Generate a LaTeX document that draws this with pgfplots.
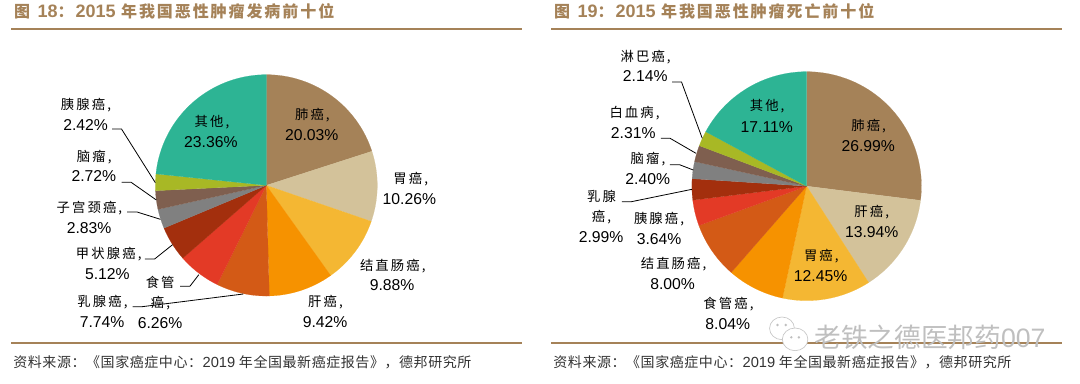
\documentclass[border=0pt]{standalone}
\usepackage{fontspec}
\usepackage{pgfplots}
\usepackage{pgfplotstable}
\pgfplotsset{compat=1.18}
\setmainfont{Liberation Sans}
\newfontfamily\cjk[LetterSpace=16]{Noto Sans CJK SC}
\newfontfamily\cjkt[LetterSpace=12]{Noto Sans CJK SC}
\newfontfamily\cjkf[LetterSpace=4]{Noto Sans CJK SC}
\newfontfamily\cjkw{Noto Sans CJK SC}
\definecolor{c1}{HTML}{A58258}
\definecolor{c2}{HTML}{D3C29A}
\definecolor{c3}{HTML}{F4B733}
\definecolor{c4}{HTML}{F69200}
\definecolor{c5}{HTML}{D35A16}
\definecolor{c6}{HTML}{E33A26}
\definecolor{c7}{HTML}{A32F0D}
\definecolor{c8}{HTML}{808080}
\definecolor{c9}{HTML}{7F5F4F}
\definecolor{c10}{HTML}{A8B825}
\definecolor{c11}{HTML}{2DB494}
\definecolor{tt}{HTML}{A58258}
\pgfplotstableread{
name value color
肺癌 20.03 c1
胃癌 10.26 c2
结直肠癌 9.88 c3
肝癌 9.42 c4
乳腺癌 7.74 c5
食管癌 6.26 c6
甲状腺癌 5.12 c7
子宫颈癌 2.83 c8
脑瘤 2.72 c9
胰腺癌 2.42 c10
其他 23.36 c11
}\tableA
\pgfplotstableread{
name value color
肺癌 26.99 c1
肝癌 13.94 c2
胃癌 12.45 c3
食管癌 8.04 c4
结直肠癌 8.00 c5
胰腺癌 3.64 c6
乳腺癌 2.99 c7
脑瘤 2.40 c8
白血病 2.31 c9
淋巴癌 2.14 c10
其他 17.11 c11
}\tableB
% #1 table, #2 sum, #3 cx, #4 cy, #5 rx, #6 ry
\newcommand\drawpie[6]{%
  \gdef\cum{0}%
  \pgfplotstablegetrowsof{#1}%
  \pgfmathtruncatemacro\lastrow{\pgfplotsretval-1}%
  \pgfplotsforeachungrouped \rr in {0,...,\lastrow}{%
    \pgfplotstablegetelem{\rr}{value}\of{#1}\let\wval\pgfplotsretval
    \pgfplotstablegetelem{\rr}{color}\of{#1}\let\wcol\pgfplotsretval
    \pgfmathsetmacro\wend{\cum+\wval*360/#2}%
    \edef\tmp{\noexpand\addplot[fill=\wcol,draw=\wcol,line width=0.1pt,domain=\cum:\wend,samples=40,forget plot]
      ({#3+#5*sin(x)},{#4-#6*cos(x)}) -- (axis cs:#3,#4) -- cycle;}%
    \tmp
    \xdef\cum{\wend}%
  }%
}
\newcommand\lab[3]{\node[inner sep=0pt,anchor=center] at (axis cs:#1,#2) {\fontsize{10}{12}\selectfont\cjk #3};}
\newcommand\num[3]{\node[inner sep=0pt,anchor=center] at (axis cs:#1,#2) {\fontsize{11.8}{13}\selectfont #3};}
\newcommand\leader[3]{\addplot[black,line width=0.6pt,forget plot] coordinates {#1 #2 #3};}
\pgfplotsset{panel/.style={scale only axis,width=405pt,height=287.25pt,hide axis,
  xmin=0,xmax=1564.4,ymin=0,ymax=1149,y dir=reverse,clip=false}}
\newcommand\frameparts[2]{%
  \addplot[tt,line width=1.6pt,forget plot] coordinates {(32,86) (1512,86)};
  \addplot[tt,line width=1.6pt,forget plot] coordinates {(32,1030) (1512,1030)};
  \node[anchor=west,inner sep=0pt,text=tt] at (axis cs:40,33) {\fontsize{12}{14}\selectfont\bfseries\cjkt 图\ {\fontsize{13.5}{14}\selectfont\textrm{\textbf{#1}}}：{\fontsize{13.5}{14}\selectfont\textrm{\textbf{2015}}} #2};
  \node[anchor=west,inner sep=0pt,text=black!80] at (axis cs:38,1086) {\fontsize{10.5}{12}\selectfont\cjkf 资料来源：《国家癌症中心：{\fontsize{11}{12}\selectfont\textrm{2019}} 年全国最新癌症报告》，德邦研究所};
}
\begin{document}
\begin{tikzpicture}
\path[use as bounding box] (0,0) rectangle (810pt,287.25pt);
\begin{axis}[panel,at={(0,0)},anchor=south west]
\drawpie{\tableA}{100.04}{771.5}{556}{321.5}{332}
\frameparts{18}{年我国恶性肿瘤发病前十位}
\leader{(325,387)}{(352,387)}{(450,548)}
\leader{(352,547)}{(380,547)}{(453,600)}
\leader{(368,636)}{(397,636)}{(465,658)}
\leader{(420,777)}{(448,777)}{(500,734)}
\leader{(522,859)}{(550,859)}{(576,824)}
\leader{(384,920)}{(412,920)}{(705,882)}
\lab{905}{345}{肺癌,}\num{903}{405}{20.03\%}
\lab{1190}{537}{胃癌,}\num{1186}{597}{10.26\%}
\lab{1138}{797}{结直肠癌,}\num{1136}{856}{9.88\%}
\lab{943}{905}{肝癌,}\num{942}{965}{9.42\%}
\lab{297}{905}{乳腺癌,}\num{296}{965}{7.74\%}
\lab{464}{848}{食管}\lab{465}{908}{癌,}\num{464}{968}{6.26\%}
\lab{315}{762}{甲状腺癌,}\num{311}{821}{5.12\%}
\lab{259}{624}{子宫颈癌,}\num{258}{684}{2.83\%}
\lab{273}{470}{脑瘤,}\num{272}{529}{2.72\%}
\lab{249}{314}{胰腺癌,}\num{248}{374}{2.42\%}
\lab{614}{367}{其他,}\num{611}{426}{23.36\%}
\end{axis}
\begin{axis}[panel,at={(405pt,0)},anchor=south west]
\drawpie{\tableB}{100.01}{772.5}{558.5}{332.5}{343.5}
\frameparts{19}{年我国恶性肿瘤死亡前十位}
\leader{(383,246)}{(410,246)}{(470,415)}
\leader{(350,415)}{(377,415)}{(452,460)}
\leader{(376,494)}{(404,494)}{(444,510)}
\leader{(237,605)}{(265,605)}{(440,568)}
\lab{952}{377}{肺癌,}\num{951}{437}{26.99\%}
\lab{961}{635}{肝癌,}\num{961}{695}{13.94\%}
\lab{815}{769}{胃癌,}\num{813}{828}{12.45\%}
\lab{546}{912}{食管癌,}\num{544}{973}{8.04\%}
\lab{387}{792}{结直肠癌,}\num{384}{851}{8.00\%}
\lab{345}{657}{胰腺癌,}\num{345}{716}{3.64\%}
\lab{178}{590}{乳腺}\lab{178}{652}{癌,}\num{177}{711}{2.99\%}
\lab{313}{478}{脑瘤,}\num{312}{537}{2.40\%}
\lab{274}{338}{白血病,}\num{270}{398}{2.31\%}
\lab{306}{170}{淋巴癌,}\num{305}{228}{2.14\%}
\lab{658}{320}{其他,}\num{657}{380}{17.11\%}
% watermark
\node[inner sep=0pt,anchor=west,text=black!25] at (axis cs:794,1011) {\fontsize{20}{22}\selectfont\cjkw 老铁之德医邦药\textrm{007}};
\draw[black!22,fill=white,line width=0.5pt] (axis cs:701,985) ellipse [x radius=36,y radius=34];
\draw[black!22,fill=white,line width=0.5pt] (axis cs:739,1018) ellipse [x radius=37,y radius=34];
\fill[black!25] (axis cs:688,975) circle [radius=1pt] (axis cs:712,975) circle [radius=1pt] (axis cs:728,1012) circle [radius=1pt] (axis cs:750,1012) circle [radius=1pt];
\end{axis}
\end{tikzpicture}
\end{document}
